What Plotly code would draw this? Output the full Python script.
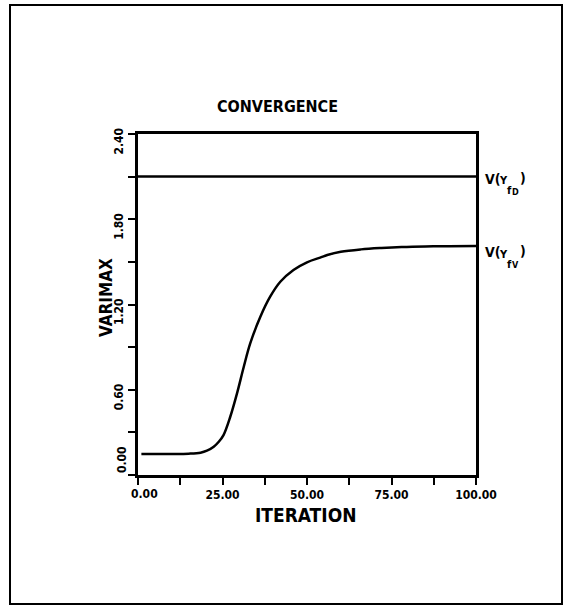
import plotly.graph_objects as go

# Varimax criterion per iteration
iterations = [1, 5, 10, 15, 18.5, 20.4, 22.4, 23.9, 25.3, 27.3, 29.3, 31.3, 33.2, 36.2,
              39.1, 42.1, 46.0, 50.0, 53.9, 56.0, 60.0, 66.0, 72.0, 78.0, 85.0, 92.0, 100.0]
varimax = [0.148, 0.148, 0.148, 0.150, 0.157, 0.171, 0.199, 0.234, 0.281, 0.410, 0.575,
           0.762, 0.926, 1.114, 1.255, 1.360, 1.443, 1.497, 1.530, 1.548, 1.571, 1.588,
           1.598, 1.605, 1.609, 1.610, 1.611]

# Reference level V(Y_fD)
ref_iter = [0, 100]
ref_level = [2.1, 2.1]

x_major = [0, 25, 50, 75, 100]
x_labels = ["0.00", "25.00", "50.00", "75.00", "100.00"]
y_major = [0, 0.6, 1.2, 1.8, 2.4]
y_labels = ["0.00", "0.60", "1.20", "1.80", "2.40"]

FONT = "DejaVu Sans Condensed"
INK = "black"

fig = go.Figure()
fig.add_trace(go.Scatter(x=ref_iter, y=ref_level, mode="lines",
                         line=dict(color=INK, width=2.5), hoverinfo="skip"))
fig.add_trace(go.Scatter(x=iterations, y=varimax, mode="lines",
                         line=dict(color=INK, width=2.5, shape="spline", smoothing=1.0),
                         hoverinfo="skip"))

L, R, T, B = 138, 90, 134, 132
W, H = 566, 607
pw, ph = W - L - R, H - T - B


def px(x):
    return (x - L) / pw


def py(y):
    return (H - B - y) / ph


tick_font = dict(family=FONT, size=12, weight="bold")
axis_common = dict(showgrid=False, zeroline=False, showline=True, mirror=True,
                   linecolor=INK, linewidth=2.5, ticks="outside", ticklen=7,
                   tickwidth=2, tickcolor=INK, tickfont=tick_font)

# the origin labels are placed by hand so the two "0.00" do not collide
fig.update_layout(
    width=W, height=H,
    margin=dict(l=L, r=R, t=T, b=B, pad=0),
    paper_bgcolor="white", plot_bgcolor="white",
    showlegend=False,
    font=dict(family=FONT, color=INK, size=12, weight="bold"),
    xaxis=dict(range=[0, 100], tickvals=x_major[1:], ticktext=x_labels[1:],
               minor=dict(dtick=12.5, tick0=0, ticks="outside", ticklen=7,
                          tickwidth=2, tickcolor=INK, showgrid=False),
               **axis_common),
    yaxis=dict(range=[0, 2.4], tickvals=y_major[1:], ticktext=y_labels[1:],
               tickangle=-90, ticklabelshift=9,
               minor=dict(dtick=0.3, tick0=0, ticks="outside", ticklen=7,
                          tickwidth=2, tickcolor=INK, showgrid=False),
               **axis_common),
    shapes=[dict(type="rect", xref="paper", yref="paper",
                 x0=px(10), x1=px(562), y0=py(604), y1=py(5),
                 line=dict(color=INK, width=2))],
)

fig.add_annotation(text=x_labels[0], xref="x", yref="paper", x=x_major[0], y=py(494),
                   xanchor="center", yanchor="middle", xshift=6, showarrow=False,
                   font=tick_font)
fig.add_annotation(text=y_labels[0], xref="paper", yref="y", x=px(122), y=y_major[0],
                   xanchor="center", yanchor="middle", yshift=15, textangle=-90,
                   showarrow=False, font=tick_font)

fig.add_annotation(text="CONVERGENCE", xref="paper", yref="paper", x=px(277), y=py(106),
                   xanchor="center", yanchor="middle", showarrow=False,
                   font=dict(family=FONT, size=16, weight="bold"))
fig.add_annotation(text="ITERATION", xref="paper", yref="paper", x=px(305), y=py(515),
                   xanchor="center", yanchor="middle", showarrow=False,
                   font=dict(family=FONT, size=19, weight="bold"))
fig.add_annotation(text="VARIMAX", xref="paper", yref="paper", x=px(106), y=py(298),
                   xanchor="center", yanchor="middle", textangle=-90, showarrow=False,
                   font=dict(family=FONT, size=17, weight="bold"))


def level_label(level, sub, drop):
    """Write V(Y_f_sub) beside a level line, piece by piece (left x, size, drop in px)."""
    pieces = [("V(", 484, 14, 0), ("Y", 498, 11, 2), ("f", 506, 11, 12),
              (sub, 511, 9, 13), (")", 519, 14, -1)]
    for text, left, size, dy in pieces:
        fig.add_annotation(text=text, xref="paper", yref="y", x=px(left), y=level,
                           xanchor="left", yanchor="middle", yshift=-(drop + dy),
                           showarrow=False, borderpad=0,
                           font=dict(family=FONT, size=size, weight="bold"))


level_label(ref_level[-1], "D", 2)
level_label(varimax[-1], "V", 6)

fig.write_html("out.html")
